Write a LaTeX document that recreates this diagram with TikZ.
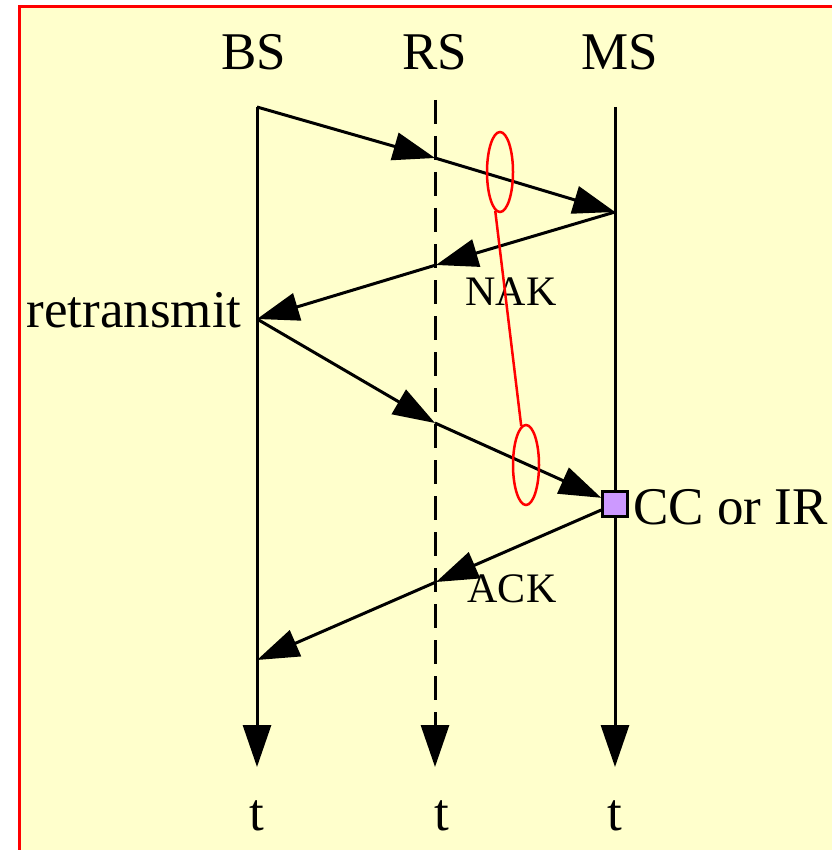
\documentclass[tikz,border=0pt]{standalone}
\usepackage{fontspec}
\setmainfont{Liberation Serif}
\usepackage{tikz}
\usetikzlibrary{arrows.meta, shapes.geometric, positioning}
\definecolor{bgyellow}{HTML}{FFFFCC}
\definecolor{ccpurple}{HTML}{CC99FF}
\tikzset{every picture/.append style={line width=3pt}}

\begin{document}
\begin{tikzpicture}[x=1pt, y=-1pt,
    tip/.style={-{Triangle[length=42pt, width=28pt]}},
    msg/.style={tip, line width=3pt},
    bigtext/.style={font=\fontsize{53}{60}\selectfont, inner sep=0pt},
    smalltext/.style={font=\fontsize{42}{48}\selectfont, inner sep=0pt},
    loop/.style={draw=red, ellipse, line width=2.5pt, minimum width=26pt, minimum height=80pt, inner sep=0pt}]
    \useasboundingbox (0,0) rectangle (832,850);
    % background and frame
    \fill[bgyellow] (20,8) rectangle (832,850);
    \draw[red, line width=3pt] (19,850) -- (19,7) -- (832,7);

    % lifelines
    \coordinate (bstop) at (257,107);
    \coordinate (rstop) at (435,100);
    \coordinate (mstop) at (615,107);
    \coordinate (bsend) at (257,767);
    \coordinate (rsend) at (435,767);
    \coordinate (msend) at (615,767);
    \draw[tip] (bstop) -- (bsend);
    \draw[tip, dash pattern=on 24pt off 12pt] (rstop) -- (rsend);
    \draw[tip] (mstop) -- (msend);

    \node[bigtext, anchor=base] (bs) at (254,70) {BS};
    \node[bigtext, anchor=base] (rs) at (435,70) {RS};
    \node[bigtext, anchor=base] (ms) at (620,70) {MS};
    \node[bigtext, anchor=base] (tb) at (257,830) {t};
    \node[bigtext, anchor=base] (tr) at (442,830) {t};
    \node[bigtext, anchor=base] (tm) at (615,830) {t};

    % message events
    \coordinate (r1) at (435,158);
    \coordinate (m1) at (615,212);
    \coordinate (r2) at (436,265);
    \coordinate (b2) at (257,319);
    \coordinate (r3) at (435,423);
    \node[draw, fill=ccpurple, line width=2.5pt, minimum size=25pt, inner sep=0pt] (cc) at (615,504) {};
    \coordinate (r4) at (436,582);
    \coordinate (b4) at (257,660);

    \draw[msg] (bstop) -- (r1);
    \draw[msg] (r1) -- (m1);
    \draw[msg] (m1) -- (r2);
    \draw[msg] (r2) -- (b2);
    \draw[msg] (b2) -- (r3);
    \draw[msg] (r3) -- (cc);
    \draw[msg] (cc) -- (r4);
    \draw[msg] (r4) -- (b4);

    \node[bigtext, anchor=base east] (retx) at (243,327) {retransmit};
    \node[bigtext, anchor=base west] (ccir) at (632,524) {CC or IR};
    \node[smalltext, anchor=base] (nak) at (511,305) {NAK};
    \node[smalltext, anchor=base] (ack) at (512,602) {ACK};

    % combined packets
    \node[loop] (p1) at (500,172) {};
    \node[loop] (p2) at (526,465) {};
    \draw[red, line width=2.5pt] (p1.263) -- (p2.97);
\end{tikzpicture}
\end{document}
